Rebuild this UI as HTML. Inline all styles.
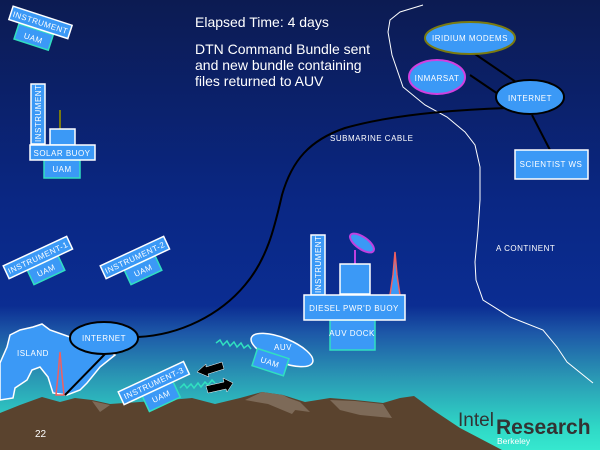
<!DOCTYPE html>
<html><head><meta charset="utf-8"><style>
html,body{margin:0;padding:0;width:600px;height:450px;overflow:hidden;background:#0b1f5c}
svg{display:block}
text{font-family:"Liberation Sans",sans-serif}
.s{font-size:8px;fill:#fff;letter-spacing:0.5px}
</style></head><body>
<svg width="600" height="450" viewBox="0 0 600 450" xmlns="http://www.w3.org/2000/svg">
<defs>
<linearGradient id="bg" x1="0" y1="0" x2="0" y2="1">
<stop offset="0" stop-color="#0c1b52"/>
<stop offset="0.45" stop-color="#0a2784"/>
<stop offset="0.68" stop-color="#0b2d92"/>
<stop offset="0.74" stop-color="#1d58a8"/>
<stop offset="0.84" stop-color="#2a98b4"/>
<stop offset="0.95" stop-color="#2fd8c6"/>
<stop offset="1" stop-color="#36e8cf"/>
</linearGradient>
</defs>
<rect width="600" height="450" fill="url(#bg)"/>

<!-- mountains -->
<path d="M0,413 L20,405 L42,397 L60,402 L75,398 L92,400 L110,404 L140,402 L170,400 L192,398 L215,404 L240,398 L262,392 L283,395 L305,402 L330,398 L355,400 L383,403 L400,398 L414,396 L433,410 L460,428 L502,450 L0,450 Z" fill="#5a432e"/>
<path d="M245,400 L262,392 L283,395 L300,404 L292,414 L268,404 Z M330,400 L355,401 L383,404 L392,418 L360,415 L340,410 Z M92,401 L110,405 L100,412 Z M283,396 L300,402 L310,412 L295,410 Z" fill="#7d6a58"/>

<!-- title -->
<text x="195" y="27" font-size="14" fill="#fff">Elapsed Time:  4 days</text>
<text x="195" y="54" font-size="14" fill="#fff">DTN Command  Bundle sent</text>
<text x="195" y="70" font-size="14" fill="#fff">and new bundle containing</text>
<text x="195" y="86" font-size="14" fill="#fff">files returned to AUV</text>

<!-- continent line -->
<path d="M423,5 L400,12 L390,20 L388,32 L392,55 L403,87 L425,105 L447,117 L465,132 L475,145 L480,167 L480,200 L478,230 L475,262 L476,280 L483,300 L510,317 L543,330 L557,347 L567,362 L593,383" fill="none" stroke="#fff" stroke-width="1"/>
<text x="496" y="251" class="s" font-size="7">A CONTINENT</text>

<!-- cable -->
<path d="M138,337 C180,335 220,315 245,285 C268,258 275,225 282,195 C292,160 310,140 345,128 C390,115 450,110 507,108" fill="none" stroke="#000" stroke-width="2"/>
<text x="330" y="141" class="s" font-size="7">SUBMARINE CABLE</text>

<!-- right cluster -->
<line x1="475" y1="54" x2="516" y2="82" stroke="#000" stroke-width="2"/>
<line x1="470" y1="75" x2="498" y2="94" stroke="#000" stroke-width="2"/>
<line x1="532" y1="115" x2="550" y2="150" stroke="#000" stroke-width="2"/>
<ellipse cx="470" cy="38" rx="45" ry="16" fill="#3b99f6" stroke="#7a7a10" stroke-width="2"/>
<text x="470" y="41" class="s" text-anchor="middle">IRIDIUM MODEMS</text>
<ellipse cx="437" cy="77" rx="28" ry="17" fill="#3b99f6" stroke="#d040e0" stroke-width="2"/>
<text x="437" y="81" class="s" text-anchor="middle">INMARSAT</text>
<ellipse cx="530" cy="97" rx="34" ry="17" fill="#3b99f6" stroke="#000" stroke-width="2"/>
<text x="530" y="101" class="s" text-anchor="middle">INTERNET</text>
<rect x="515" y="150" width="73" height="29" fill="#3b99f6" stroke="#fff" stroke-width="1.5"/>
<text x="551" y="167" class="s" text-anchor="middle">SCIENTIST WS</text>

<!-- top-left instrument -->
<g transform="rotate(18 38 30)">
<rect x="18" y="30" width="36" height="16" fill="#3b99f6" stroke="#30e0c0" stroke-width="1.5"/>
<text x="36" y="42" class="s" text-anchor="middle">UAM</text>
<rect x="7" y="15" width="62" height="14" fill="#3b99f6" stroke="#fff" stroke-width="1.5"/>
<text x="38" y="25" class="s" text-anchor="middle">INSTRUMENT</text>
</g>

<!-- solar buoy -->
<line x1="60" y1="110" x2="60" y2="129" stroke="#7a7a10" stroke-width="2"/>
<rect x="50" y="129" width="25" height="16" fill="#3b99f6" stroke="#fff" stroke-width="1.5"/>
<rect x="31" y="84" width="14" height="60" fill="#3b99f6" stroke="#fff" stroke-width="1.5"/>
<text transform="translate(41,142) rotate(-90)" class="s">INSTRUMENT</text>
<rect x="44" y="160" width="36" height="18" fill="#3b99f6" stroke="#30e0c0" stroke-width="1.5"/>
<text x="62" y="172" class="s" text-anchor="middle">UAM</text>
<rect x="30" y="145" width="65" height="15" fill="#3b99f6" stroke="#fff" stroke-width="1.5"/>
<text x="62" y="156" class="s" text-anchor="middle">SOLAR BUOY</text>

<!-- instrument-1 -->
<g transform="rotate(-25 40 262)">
<rect x="25" y="264" width="34" height="16" fill="#3b99f6" stroke="#30e0c0" stroke-width="1.5"/>
<text x="42" y="275" class="s" text-anchor="middle">UAM</text>
<rect x="5" y="250" width="70" height="14" fill="#3b99f6" stroke="#fff" stroke-width="1.5"/>
<text x="40" y="260" class="s" text-anchor="middle">INSTRUMENT-1</text>
</g>
<!-- instrument-2 -->
<g transform="rotate(-25 137 262)">
<rect x="122" y="264" width="34" height="16" fill="#3b99f6" stroke="#30e0c0" stroke-width="1.5"/>
<text x="139" y="275" class="s" text-anchor="middle">UAM</text>
<rect x="102" y="250" width="70" height="14" fill="#3b99f6" stroke="#fff" stroke-width="1.5"/>
<text x="137" y="260" class="s" text-anchor="middle">INSTRUMENT-2</text>
</g>

<!-- island -->
<path d="M0,363 L7,347 L10,335 L20,330 L33,327 L42,324 L50,330 L70,337 L100,345 L115,355 L100,367 L87,383 L80,390 L67,395 L53,393 L48,377 L40,367 L32,370 L27,380 L15,388 L13,398 L0,400 Z" fill="#3b99f6" stroke="#fff" stroke-width="1.5"/>
<text x="17" y="356" class="s">ISLAND</text>
<path d="M56,395 L58,375 L60,352 L62,375 L64,395 Z" fill="none" stroke="#f06060" stroke-width="1.5"/>
<line x1="105" y1="354" x2="65" y2="395" stroke="#000" stroke-width="2"/>
<ellipse cx="104" cy="338" rx="34" ry="16" fill="#3b99f6" stroke="#000" stroke-width="2"/>
<text x="104" y="341" class="s" text-anchor="middle">INTERNET</text>

<!-- diesel buoy -->
<path d="M355,264 L355,250" stroke="#c040e0" stroke-width="2"/>
<ellipse cx="362" cy="243" rx="14" ry="6" transform="rotate(35 362 243)" fill="#3b99f6" stroke="#c040e0" stroke-width="2"/>
<rect x="340" y="264" width="30" height="30" fill="#3b99f6" stroke="#fff" stroke-width="1.5"/>
<path d="M390,295 L393,275 L395,252 L397,275 L400,295 Z" fill="#3b99f6" stroke="#f06060" stroke-width="1.5"/>
<rect x="311" y="235" width="14" height="60" fill="#3b99f6" stroke="#fff" stroke-width="1.5"/>
<text transform="translate(321,293) rotate(-90)" class="s">INSTRUMENT</text>
<rect x="330" y="320" width="45" height="30" fill="#3b99f6" stroke="#30e0c0" stroke-width="1.5"/>
<text x="352" y="336" class="s" text-anchor="middle">AUV DOCK</text>
<rect x="304" y="295" width="101" height="25" fill="#3b99f6" stroke="#fff" stroke-width="1.5"/>
<text x="354" y="311" class="s" text-anchor="middle">DIESEL PWR'D BUOY</text>

<!-- AUV -->
<path d="M216,343 l4,-3 l3,5 l4,-4 l3,5 l4,-4 l3,5 l4,-4 l3,5 l4,-3 l3,4" fill="none" stroke="#30e0c0" stroke-width="1.5"/>
<path d="M180,388 l4,-4 l3,4 l4,-4 l3,4 l4,-5 l3,4 l4,-5 l3,3 l4,-5 l3,3" fill="none" stroke="#30e0c0" stroke-width="1.5"/>
<ellipse cx="282" cy="350" rx="33" ry="12" transform="rotate(22 282 350)" fill="#3b99f6" stroke="#fff" stroke-width="1.5"/>
<text x="283" y="350" class="s" text-anchor="middle">AUV</text>
<g transform="rotate(18 270 362)">
<rect x="254" y="353" width="33" height="18" fill="#3b99f6" stroke="#30e0c0" stroke-width="1.5"/>
<text x="270" y="365" class="s" text-anchor="middle">UAM</text>
</g>
<!-- arrows -->
<path d="M197,372 L206,364 L206,367 L222,362 L224,369 L208,374 L209,377 Z" fill="#000" stroke="#fff" stroke-width="0.5"/>
<path d="M233,383 L223,378 L224,382 L206,386 L208,393 L226,389 L227,392 Z" fill="#000" stroke="#fff" stroke-width="0.5"/>

<!-- instrument-3 -->
<g transform="rotate(-25 155 388)">
<rect x="140" y="390" width="34" height="17" fill="#3b99f6" stroke="#30e0c0" stroke-width="1.5"/>
<text x="157" y="401" class="s" text-anchor="middle">UAM</text>
<rect x="120" y="376" width="72" height="14" fill="#3b99f6" stroke="#fff" stroke-width="1.5"/>
<text x="156" y="386" class="s" text-anchor="middle">INSTRUMENT-3</text>
</g>

<text x="35" y="437" font-size="10" fill="#fff">22</text>

<!-- logo -->
<text x="458" y="426" font-size="19" fill="#333">Intel</text>
<text x="496" y="434" font-size="21" fill="#333" font-weight="bold">Research</text>
<text x="497" y="444" font-size="8.5" fill="#fff">Berkeley</text>
</svg>
</body></html>
